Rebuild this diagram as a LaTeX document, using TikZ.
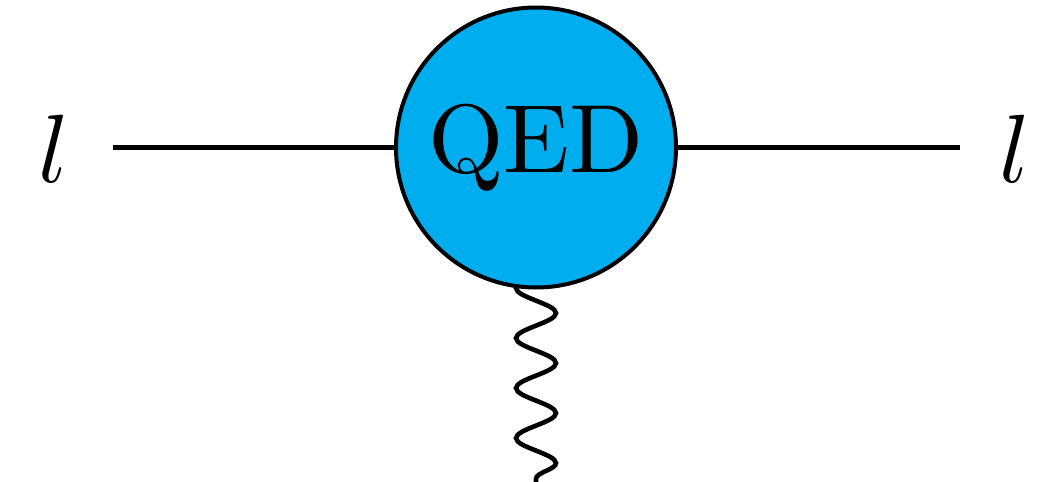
\documentclass[tikz,border=0pt]{standalone}
\usetikzlibrary{decorations.pathmorphing}
\definecolor{qedblue}{RGB}{0,174,239}
\begin{document}
\begin{tikzpicture}[x=0.5pt,y=-0.5pt,
  fermion/.style={line width=2.6pt},
  photon/.style={line width=2.3pt, decorate, decoration={snake, segment length=25pt, amplitude=10pt}},
  blobstyle/.style={circle, draw, line width=2pt, fill=qedblue, minimum size=140pt, inner sep=0pt},
  bigtext/.style={scale=4.85, inner sep=0pt}]
\useasboundingbox (0,0) rectangle (1061,482);
\clip (0,0) rectangle (1061,482);
\coordinate (o) at (536,147.5);
\coordinate (c) at (536,497.5);
\draw[photon] (o) -- (c);
\node[blobstyle] (blob) at (o) {};
\node[bigtext, anchor=base] (qed) at (536,172) {QED};
\coordinate (a) at (112.5,147.5);
\coordinate (b) at (959.5,147.5);
\draw[fermion] (a) -- (blob.west);
\draw[fermion] (blob.east) -- (b);
\node[bigtext, anchor=base] (l1) at (54,182.5) {$l$};
\node[bigtext, anchor=base] (l2) at (1015,182) {$l$};
\end{tikzpicture}
\end{document}
